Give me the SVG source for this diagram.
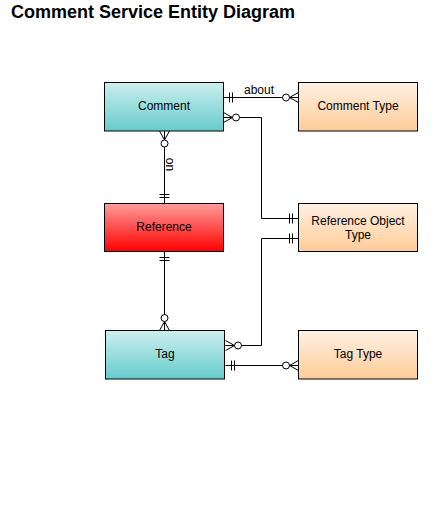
<svg xmlns="http://www.w3.org/2000/svg" width="438" height="527" viewBox="0 0 438 527">
<style>
.box{stroke:#000;stroke-width:1}
.lbl{font-family:"Liberation Sans",Arial,sans-serif;font-size:12px;fill:#000;text-anchor:middle}
.title{font-family:"Liberation Sans",Arial,sans-serif;font-size:18px;font-weight:bold;fill:#000}
.conn{fill:none;stroke:#000;stroke-width:1}
</style>
<defs>
<linearGradient id="teal" x1="0" y1="0" x2="0" y2="1"><stop offset="0" stop-color="#cdeeee"/><stop offset="1" stop-color="#66cccc"/></linearGradient>
<linearGradient id="red" x1="0" y1="0" x2="0" y2="1"><stop offset="0" stop-color="#ff9c9c"/><stop offset="1" stop-color="#ff0000"/></linearGradient>
<linearGradient id="orange" x1="0" y1="0" x2="0" y2="1"><stop offset="0" stop-color="#fff0e2"/><stop offset="1" stop-color="#ffcc99"/></linearGradient>
<marker id="one" markerUnits="userSpaceOnUse" viewBox="-20 -10 20 20" refX="0" refY="0" markerWidth="20" markerHeight="20" orient="auto-start-reverse" overflow="visible">
<path d="M-6,-5V5M-9,-5V5" stroke="#000" stroke-width="1" fill="none"/>
</marker>
<marker id="many0" markerUnits="userSpaceOnUse" viewBox="-20 -10 20 20" refX="0" refY="0" markerWidth="20" markerHeight="20" orient="auto-start-reverse" overflow="visible">
<path d="M-9,0L0,-5M-9,0L0,5M-9,0H0" stroke="#000" stroke-width="1" fill="none"/>
<circle cx="-12.5" cy="0" r="3.5" fill="#fff" stroke="#000" stroke-width="1"/>
</marker>
</defs>
<rect width="438" height="527" fill="#fff"/>
<text class="title" x="11" y="17.5">Comment Service Entity Diagram</text>
<g id="connectors">
<path class="conn" d="M223.5,97.5H298.5" marker-start="url(#one)" marker-end="url(#many0)"/>
<path class="conn" d="M223.5,117.5H261.5V218.5H298.5" marker-start="url(#many0)" marker-end="url(#one)"/>
<path class="conn" d="M298.5,238.5H261.5V345.5H225.5" marker-start="url(#one)" marker-end="url(#many0)"/>
<path class="conn" d="M225.5,365.5H298.5" marker-start="url(#one)" marker-end="url(#many0)"/>
<path class="conn" d="M164.5,131V203.5" marker-start="url(#many0)" marker-end="url(#one)"/>
<path class="conn" d="M164.5,251.5V330.5" marker-start="url(#one)" marker-end="url(#many0)"/>
<text class="lbl" x="259" y="93.5">about</text>
<text class="lbl" transform="translate(166,164.5) rotate(90)">on</text>
</g>
<g id="comment">
<rect class="box" x="104.5" y="82.5" width="119" height="48.5" fill="url(#teal)"/>
<text class="lbl" x="164" y="109.5">Comment</text>
</g>
<g id="comment-type">
<rect class="box" x="298.5" y="82.5" width="119" height="48.5" fill="url(#orange)"/>
<text class="lbl" x="358" y="109.5">Comment Type</text>
</g>
<g id="reference">
<rect class="box" x="104.5" y="203.5" width="119" height="48" fill="url(#red)"/>
<text class="lbl" x="164" y="230.5">Reference</text>
</g>
<g id="reference-object-type">
<rect class="box" x="298.5" y="203.5" width="119" height="48" fill="url(#orange)"/>
<text class="lbl" x="358" y="225">Reference Object</text>
<text class="lbl" x="358" y="239">Type</text>
</g>
<g id="tag">
<rect class="box" x="105.5" y="330.5" width="119" height="48.5" fill="url(#teal)"/>
<text class="lbl" x="165" y="357.5">Tag</text>
</g>
<g id="tag-type">
<rect class="box" x="298.5" y="330.5" width="119" height="48.5" fill="url(#orange)"/>
<text class="lbl" x="358" y="357.5">Tag Type</text>
</g>
</svg>
